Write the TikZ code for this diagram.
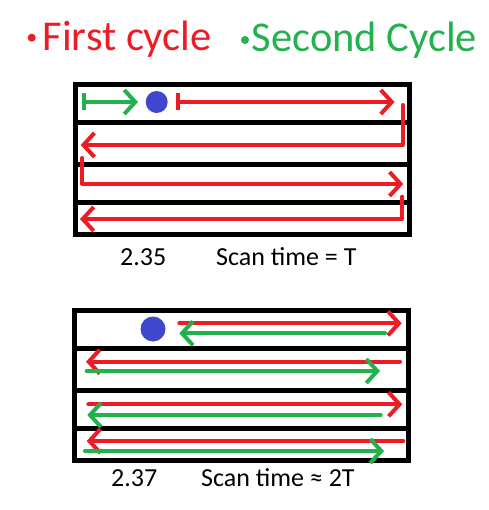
\documentclass[tikz,border=0pt]{standalone}
\usepackage{fontspec}
\setmainfont{Carlito}
\usetikzlibrary{arrows.meta}
\definecolor{pred}{HTML}{ED1C24}
\definecolor{pgreen}{HTML}{22B14C}
\definecolor{pblue}{HTML}{3F48CC}
\tikzset{
  boxline/.style={line width=5pt, draw=black},
  arr/.style={line width=4pt, line cap=round, line join=round, -{Straight Barb[length=11pt,width=24pt]}},
  barr/.style={line width=4pt, line cap=round, line join=round, {Bar[width=17pt]}-{Straight Barb[length=11pt,width=24pt]}},
  head/.style={anchor=base west, inner sep=0pt, font=\fontsize{42.5}{48}\selectfont},
  lbl/.style={anchor=base west, inner sep=0pt, font=\fontsize{26}{30}\selectfont},
}
\begin{document}
\begin{tikzpicture}[x=1pt,y=-1pt]
\useasboundingbox (0,0) rectangle (488,510);
% legend
\fill[pred] (31.7,37.7) circle (4);
\node[head, text=pred] (h1) at (42.5,50.7) {First cycle};
\fill[pgreen] (245,40) circle (4);
\node[head, text=pgreen] (h2) at (251.5,51.7) {Second Cycle};

% top box
\draw[boxline] (75.8,84.2) rectangle (409.2,234.2);
\draw[boxline] (75.8,122.5) -- (409.2,122.5);
\draw[boxline] (75.8,164.5) -- (409.2,164.5);
\draw[boxline] (75.8,202.5) -- (409.2,202.5);

\coordinate (g1a) at (81.7,102);
\coordinate (g1b) at (138,102);
\draw[barr, draw=pgreen] (g1a) -- (g1b);
\fill[pblue] (156.7,102) circle (11);
\coordinate (r1a) at (176,102);
\coordinate (r1b) at (394.5,102);
\draw[barr, draw=pred] (r1a) -- (r1b);
\coordinate (r2a) at (402.7,105);
\coordinate (r2b) at (80.7,145);
\draw[arr, draw=pred] (r2a) |- (r2b);
\coordinate (r3a) at (82.3,158);
\coordinate (r3b) at (403.3,184);
\draw[arr, draw=pred] (r3a) |- (r3b);
\coordinate (r4a) at (402.3,196.7);
\coordinate (r4b) at (80,219);
\draw[arr, draw=pred] (r4a) |- (r4b);

\node[lbl] (t1) at (120,265.7) {2.35};
\node[lbl] (t2) at (216,265.7) {Scan time = T};

% bottom box
\draw[boxline] (74.8,310.5) rectangle (408.2,460.2);
\draw[boxline] (74.8,348.3) -- (408.2,348.3);
\draw[boxline] (74.8,390.8) -- (408.2,390.8);
\draw[boxline] (74.8,428.3) -- (408.2,428.3);

\fill[pblue] (153,329) circle (12.5);
\coordinate (a1) at (179.3,323.3); \coordinate (b1) at (401.7,323.3);
\draw[arr, draw=pred] (a1) -- (b1);
\coordinate (c1) at (385,333.3); \coordinate (d1) at (179.3,333.3);
\draw[arr, draw=pgreen] (c1) -- (d1);

\coordinate (a2) at (400,361.7); \coordinate (b2) at (86,361.7);
\draw[arr, draw=pred] (a2) -- (b2);
\coordinate (c2) at (86.7,371); \coordinate (d2) at (380,371);
\draw[arr, draw=pgreen] (c2) -- (d2);

\coordinate (a3) at (88.3,404.3); \coordinate (b3) at (402.3,404.3);
\draw[arr, draw=pred] (a3) -- (b3);
\coordinate (c3) at (380.7,415); \coordinate (d3) at (87.3,415);
\draw[arr, draw=pgreen] (c3) -- (d3);

\coordinate (a4) at (403.3,441); \coordinate (b4) at (86.7,441);
\draw[arr, draw=pred] (a4) -- (b4);
\coordinate (c4) at (85,451); \coordinate (d4) at (384,451);
\draw[arr, draw=pgreen] (c4) -- (d4);

\node[lbl] (t3) at (111,486) {2.37};
\node[lbl] (t4) at (201,486) {Scan time ≈ 2T};
\end{tikzpicture}
\end{document}
